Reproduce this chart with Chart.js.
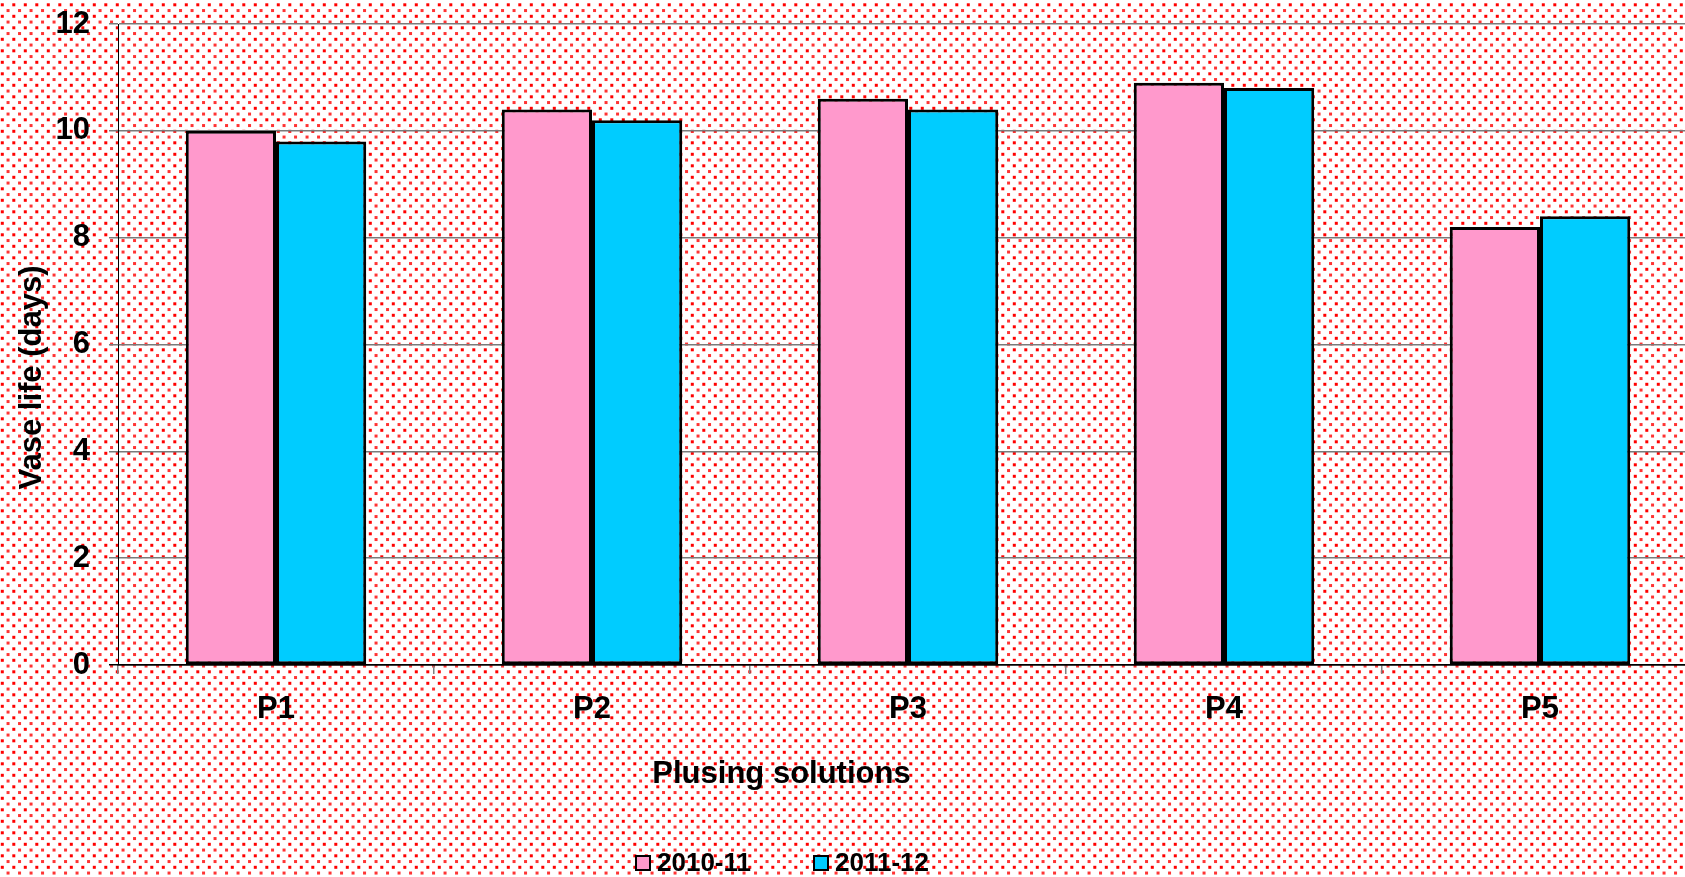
<!DOCTYPE html>
<html>
<head>
<meta charset="utf-8">
<script src="https://cdn.jsdelivr.net/npm/chart.js@4/dist/chart.umd.min.js"></script>
<style>
  html, body { margin: 0; padding: 0; background: #fff; overflow: hidden; }
  #wrap { width: 1685px; height: 877px; position: relative; overflow: hidden; }
  #c { display: block; }
</style>
</head>
<body>
<!-- the plot runs slightly past the right edge of the frame and is clipped there -->
<div id="wrap"><canvas id="c" width="1698" height="877"></canvas></div>
<script>
// Vase life of cut flowers under different pulsing solutions, two seasons
const categories = ['P1', 'P2', 'P3', 'P4', 'P5'];
const season1Label = '2010-11';
const season2Label = '2011-12';
const season1Values = [10.0, 10.4, 10.6, 10.9, 8.2];
const season2Values = [9.8, 10.2, 10.4, 10.8, 8.4];
const yTickValues = [0, 2, 4, 6, 8, 10, 12];

const FONT = '"Liberation Sans", Arial, sans-serif';
const PINK = '#FF99CC';
const CYAN = '#00CCFF';

// Red dotted fill behind the whole figure
const dottedBackground = {
  id: 'dottedBackground',
  beforeDraw(chart) {
    const ctx = chart.ctx;
    const w = chart.width, h = chart.height;
    ctx.save();
    ctx.fillStyle = '#ffffff';
    ctx.fillRect(0, 0, w, h);
    const step = 11.5;
    ctx.fillStyle = '#ff0000';
    let row = 0;
    for (let y = 3.3; y < h + step; y += step / 2, row++) {
      const off = (row % 2 === 0) ? 0.8 : 0.8 + step / 2;
      ctx.globalAlpha = (row % 2 === 0) ? 1 : 0.8;
      for (let x = off; x < w + step; x += step) {
        ctx.fillRect(x, y, 3, 3);
      }
    }
    ctx.restore();
  }
};

// Axis titles and legend drawn at their fixed positions
const annotations = {
  id: 'annotations',
  afterDraw(chart) {
    const ctx = chart.ctx;
    ctx.save();
    ctx.fillStyle = '#000';
    ctx.font = 'bold 31px ' + FONT;
    ctx.textAlign = 'center';
    ctx.textBaseline = 'alphabetic';
    ctx.fillText('Plusing solutions', 781.5, 783);

    ctx.save();
    ctx.translate(41, 377.5);
    ctx.rotate(-Math.PI / 2);
    ctx.fillText('Vase life (days)', 0, 0);
    ctx.restore();

    // legend
    ctx.font = 'bold 26px ' + FONT;
    ctx.textAlign = 'left';
    const items = chart.data.datasets.map(d => ({ label: d.label, color: d.backgroundColor }));
    const boxX = [636, 814];
    items.forEach((it, i) => {
      ctx.fillStyle = it.color;
      ctx.fillRect(boxX[i], 856, 14, 14);
      ctx.lineWidth = 2;
      ctx.strokeStyle = '#000';
      ctx.strokeRect(boxX[i], 856, 14, 14);
      ctx.fillStyle = '#000';
      ctx.fillText(it.label, boxX[i] + 21, 871);
    });
    ctx.restore();
  }
};

new Chart(document.getElementById('c'), {
  type: 'bar',
  data: {
    labels: categories,
    datasets: [
      {
        label: season1Label,
        data: season1Values,
        backgroundColor: PINK,
        borderColor: '#000',
        borderWidth: 3,
        borderSkipped: false
      },
      {
        label: season2Label,
        data: season2Values,
        backgroundColor: CYAN,
        borderColor: '#000',
        borderWidth: 3,
        borderSkipped: false
      }
    ]
  },
  options: {
    responsive: false,
    animation: false,
    devicePixelRatio: 1,
    layout: { padding: { top: 24, left: 0, right: 0, bottom: 0 } },
    datasets: { bar: { barPercentage: 1.0, categoryPercentage: 0.571 } },
    plugins: {
      legend: { display: false },
      tooltip: { enabled: false },
      title: { display: false }
    },
    scales: {
      x: {
        grid: {
          offset: true,
          drawOnChartArea: false,
          drawTicks: true,
          tickLength: 9,
          color: '#808080',
          lineWidth: 1.5
        },
        border: { display: true, color: '#000', width: 1.5 },
        ticks: {
          color: '#000',
          font: { family: FONT, size: 31, weight: 'bold' },
          padding: 17
        },
        afterFit(s) {
          s.height = 212;
          s.paddingLeft = 0;
          s.paddingRight = 0;
        }
      },
      y: {
        min: 0,
        max: 12,
        afterBuildTicks(s) { s.ticks = yTickValues.map(v => ({ value: v })); },
        grid: {
          color: ctx => (ctx.tick && ctx.tick.value === 0) ? '#000' : '#7a7a7a',
          lineWidth: 1.5,
          tickLength: 9
        },
        border: { display: true, color: '#000', width: 1 },
        ticks: {
          color: '#000',
          font: { family: FONT, size: 31, weight: 'bold' },
          padding: 19
        },
        afterFit(s) {
          s.width = 118;
          s.paddingTop = 0;
          s.paddingBottom = 0;
        }
      }
    }
  },
  plugins: [dottedBackground, annotations]
});
</script>
</body>
</html>
